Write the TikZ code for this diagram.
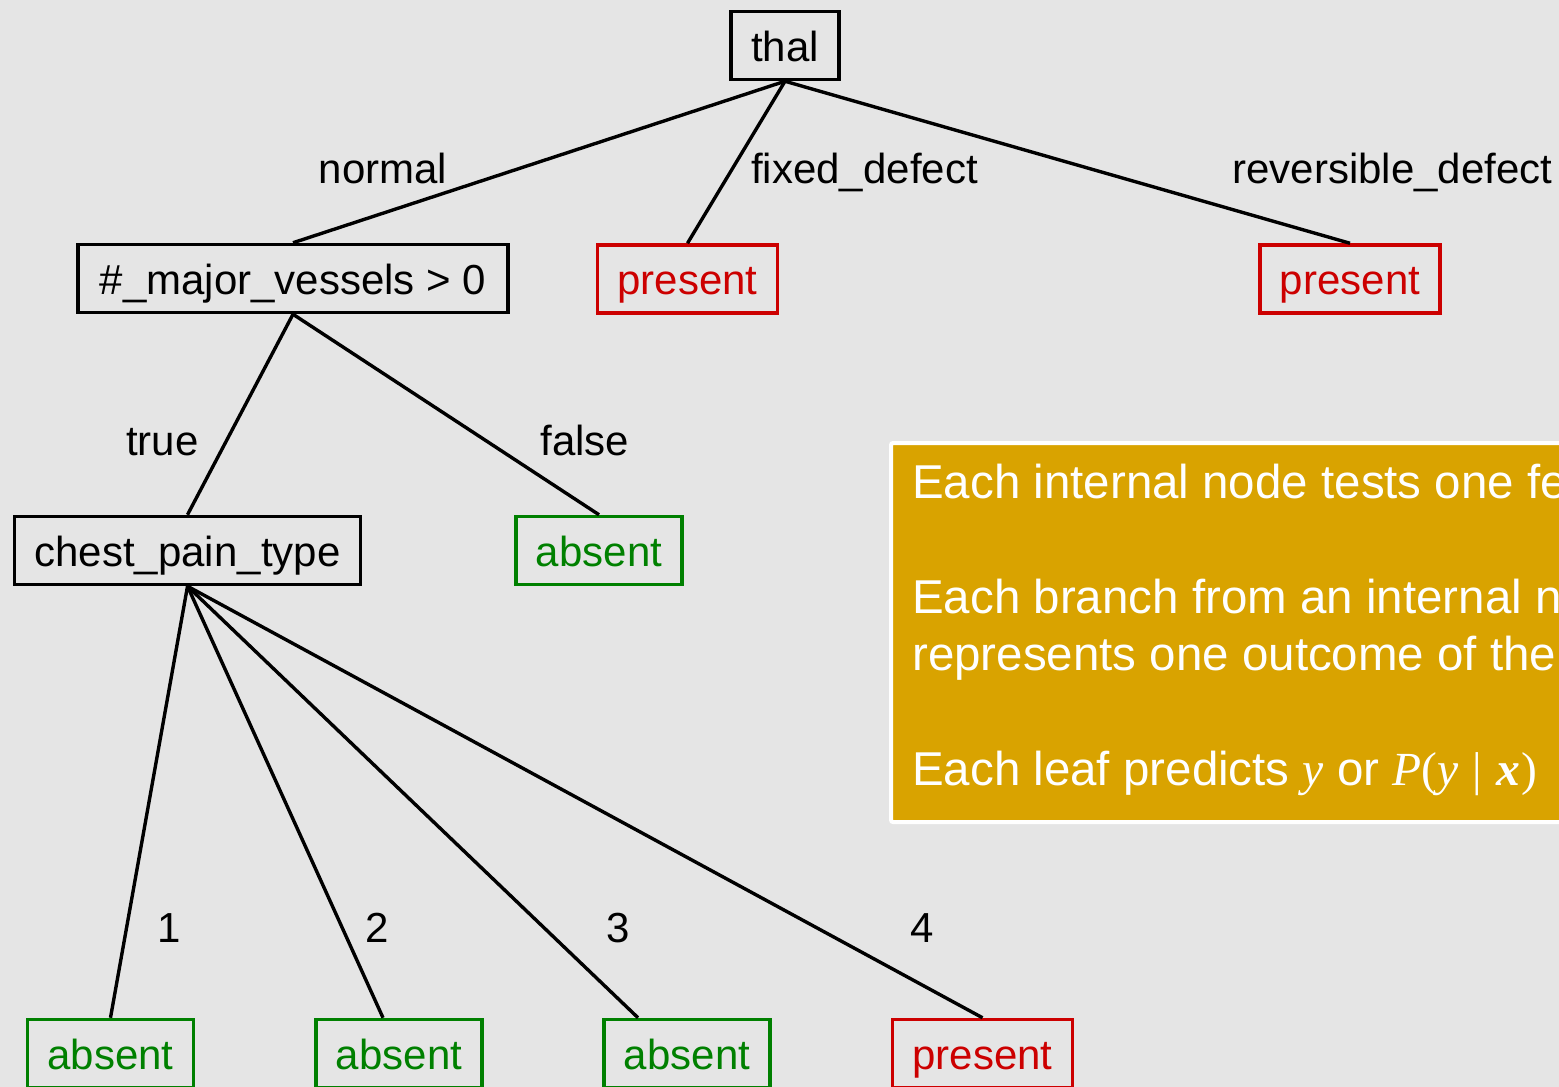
\documentclass[tikz,border=0pt]{standalone}
\usepackage{fontspec}
\setmainfont{Liberation Sans}
\newfontfamily\mathserif{Liberation Serif}
\usetikzlibrary{calc}
\definecolor{bg}{HTML}{E5E5E5}
\definecolor{leafred}{HTML}{CC0000}
\definecolor{leafgreen}{HTML}{008000}
\definecolor{notebox}{HTML}{D9A300}
\tikzset{
  treebox/.style={draw=#1, text=#1, line width=3.5pt, minimum height=68pt,
    inner xsep=20pt, inner ysep=0pt, text height=35pt, text depth=4pt,
    font=\fontsize{42}{50}\selectfont},
  inner/.style={treebox=black},
  redleaf/.style={treebox=leafred},
  greenleaf/.style={treebox=leafgreen},
  edge/.style={line width=3.4pt, black},
  elabel/.style={anchor=base, inner sep=0pt, font=\fontsize{42}{50}\selectfont},
  notetext/.style={anchor=base west, inner sep=0pt, text=white,
    font=\fontsize{47.5}{57}\selectfont},
}
\begin{document}
\begin{tikzpicture}[x=1pt,y=-1pt]
\useasboundingbox (0,0) rectangle (1559,1087);
\clip (0,0) rectangle (1559,1087);
\fill[bg] (0,0) rectangle (1559,1087);

% nodes
\node[inner] (thal) at (785,45.5) {thal};
\node[inner, inner xsep=22pt] (mv) at (293,278.5) {\#\_major\_vessels > 0};
\node[redleaf] (p1) at (687.5,279) {present};
\node[redleaf] (p2) at (1350,279) {present};
\node[inner] (cp) at (187.5,550.5) {chest\_pain\_type};
\node[greenleaf] (a0) at (599,550.5) {absent};
\node[greenleaf] (l1) at (110.5,1053.5) {absent};
\node[greenleaf] (l2) at (399,1053.5) {absent};
\node[greenleaf] (l3) at (687,1053.5) {absent};
\node[redleaf] (l4) at (982.5,1053.5) {present};

% edges
\draw[edge] (thal.south) -- (mv.north);
\draw[edge] (thal.south) -- (p1.north);
\draw[edge] (thal.south) -- (p2.north);
\draw[edge] (mv.south) -- (cp.north);
\draw[edge] (mv.south) -- (a0.north);
\draw[edge] (cp.south) -- (l1.north);
\draw[edge] (cp.south) -- ($(l2.north)+(-16,0)$);
\draw[edge] (cp.south) -- ($(l3.north)+(-49,0)$);
\draw[edge] (cp.south) -- (l4.north);

% edge labels
\node[elabel] (lnormal) at (383,183) {normal};
\node[elabel] (lfixed) at (864.5,183) {fixed\_defect};
\node[elabel] (lrev) at (1392.5,183) {reversible\_defect};
\node[elabel] (ltrue) at (162.5,455) {true};
\node[elabel] (lfalse) at (585,455) {false};
\node[elabel] (lone) at (169,942) {1};
\node[elabel] (ltwo) at (377,942) {2};
\node[elabel] (lthree) at (618,942) {3};
\node[elabel] (lfour) at (922,942) {4};

% note box
\draw[fill=notebox, draw=white, line width=4pt, rounded corners=2pt] (891,443) rectangle (1620,822);
\node[notetext] (n1) at (912,498) {Each internal node tests one feature};
\node[notetext] (n2) at (912,613) {Each branch from an internal node};
\node[notetext] (n3) at (912,670) {represents one outcome of the test};
\node[notetext] (n4) at (912,785) {Each leaf predicts {\mathserif\itshape y} or {\mathserif\itshape P}{\mathserif(}{\mathserif\itshape y}\hspace{14pt}{\mathserif|}\hspace{14pt}{\mathserif\bfseries\itshape x}\hspace{2pt}{\mathserif)}};
\end{tikzpicture}
\end{document}
